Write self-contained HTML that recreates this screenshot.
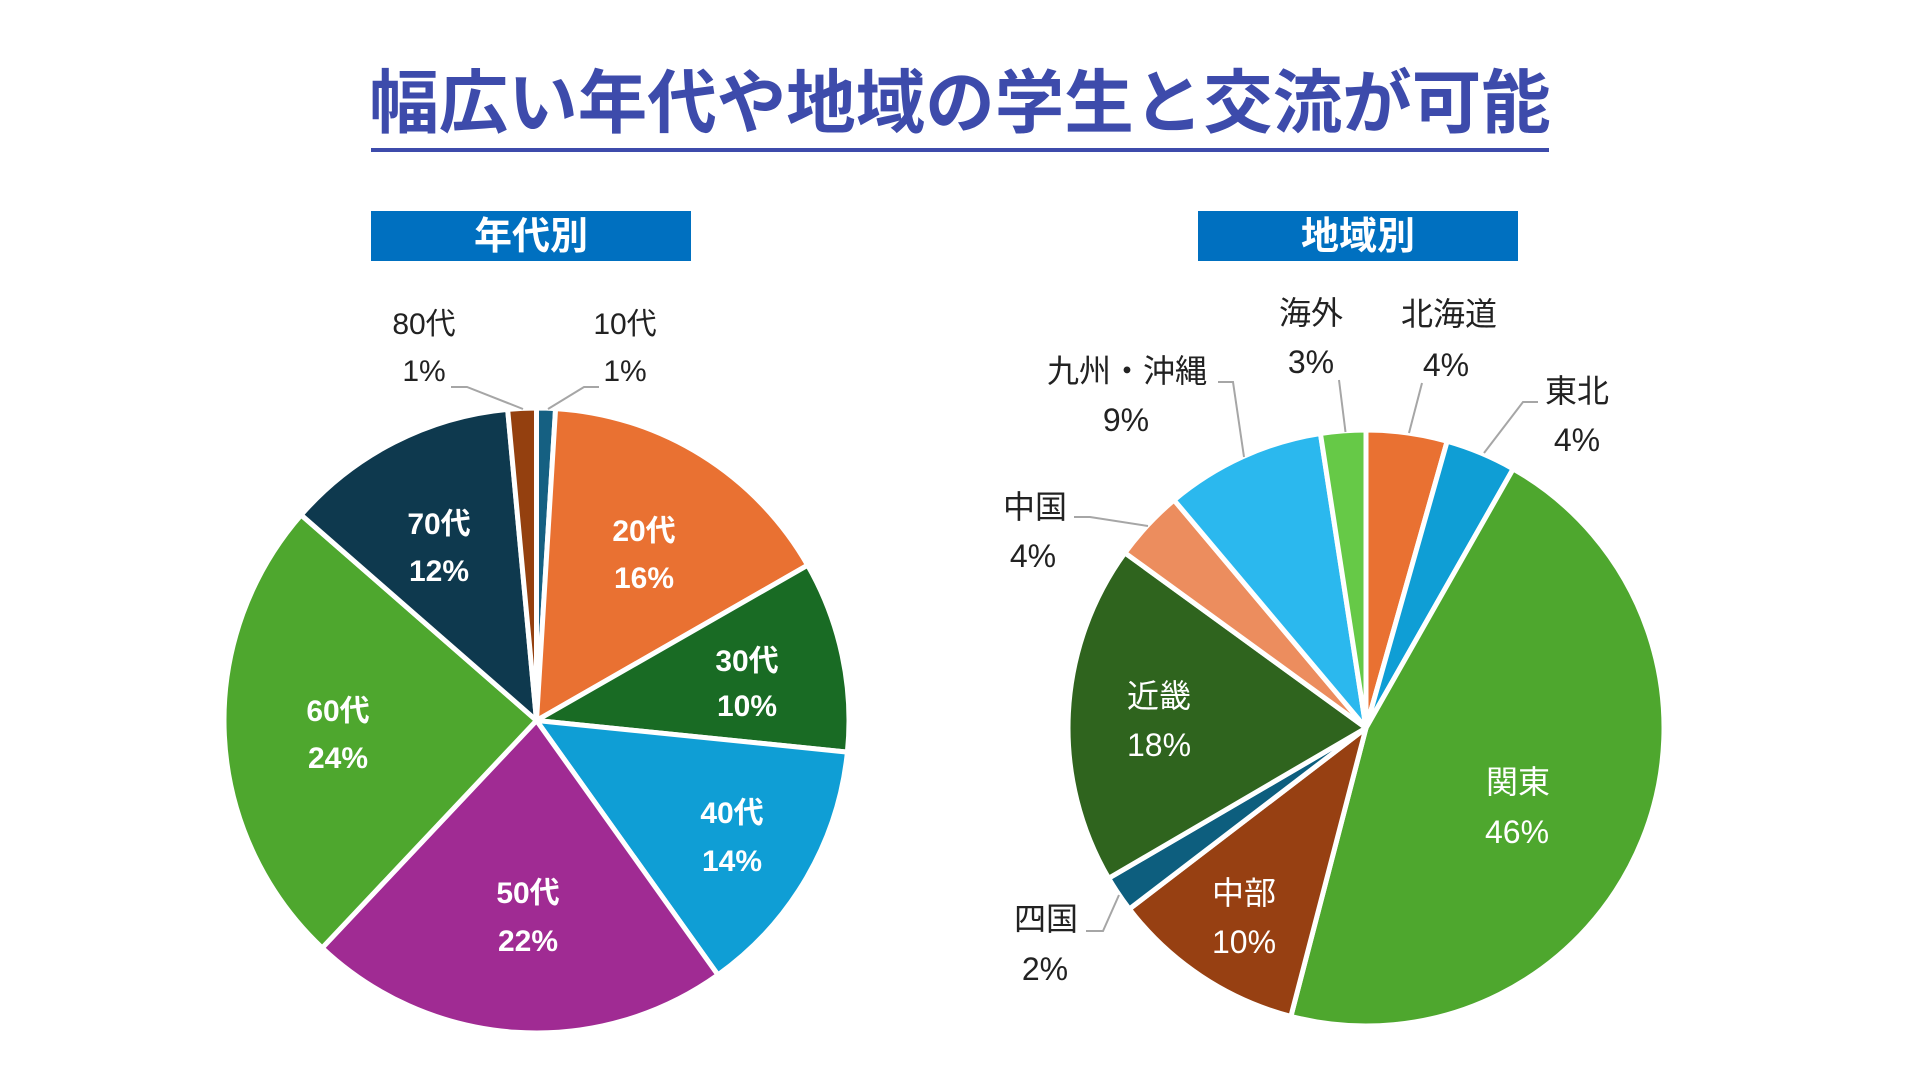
<!DOCTYPE html>
<html lang="ja">
<head>
<meta charset="utf-8">
<style>
  html, body { margin: 0; padding: 0; background: #ffffff; }
  body { width: 1920px; height: 1080px; overflow: hidden; }
  svg { display: block; }
  text { font-family: "Liberation Sans", "Noto Sans CJK JP", sans-serif; }
  .title { font-family: "Noto Sans CJK JP", "Liberation Sans", sans-serif; font-weight: 700; }
  .box { font-family: "Noto Sans CJK JP", "Liberation Sans", sans-serif; font-weight: 700; }
  .lin { font-weight: 700; fill: #ffffff; font-size: 30px; }
  .lout { font-weight: 400; fill: #222222; font-size: 30px; }
  .rin { font-weight: 400; fill: #ffffff; font-size: 32px; }
  .rout { font-weight: 400; fill: #222222; font-size: 32px; }
</style>
</head>
<body>
<svg width="1920" height="1080" viewBox="0 0 1920 1080" xmlns="http://www.w3.org/2000/svg">
  <rect x="0" y="0" width="1920" height="1080" fill="#ffffff"/>

  <!-- Title -->
  <text class="title" x="960" y="127" text-anchor="middle" font-size="69.5" fill="#3D4BAB">幅広い年代や地域の学生と交流が可能</text>
  <rect x="371" y="148" width="1178" height="4" fill="#3D4BAB"/>

  <!-- Section boxes -->
  <rect x="371" y="211" width="320" height="50" fill="#0070C0"/>
  <text class="box" x="531" y="249" text-anchor="middle" font-size="38" fill="#ffffff">年代別</text>
  <rect x="1198" y="211" width="320" height="50" fill="#0070C0"/>
  <text class="box" x="1358" y="249" text-anchor="middle" font-size="38" fill="#ffffff">地域別</text>

  <!-- Left pie -->
  <g stroke="#ffffff" stroke-width="5" stroke-linejoin="round">
    <path d="M536.5 720.5 L536.5 408 A312.5 312.5 0 0 1 555.58 408.58 Z" fill="#156082"/>
    <path d="M536.5 720.5 L555.58 408.58 A312.5 312.5 0 0 1 807.68 565.20 Z" fill="#E97132"/>
    <path d="M536.5 720.5 L807.68 565.20 A312.5 312.5 0 0 1 847.40 752.08 Z" fill="#196B24"/>
    <path d="M536.5 720.5 L847.40 752.08 A312.5 312.5 0 0 1 717.97 974.91 Z" fill="#0F9ED5"/>
    <path d="M536.5 720.5 L717.97 974.91 A312.5 312.5 0 0 1 322.17 947.92 Z" fill="#A02B93"/>
    <path d="M536.5 720.5 L322.17 947.92 A312.5 312.5 0 0 1 301.13 514.93 Z" fill="#4EA72E"/>
    <path d="M536.5 720.5 L301.13 514.93 A312.5 312.5 0 0 1 507.63 409.34 Z" fill="#0E394E"/>
    <path d="M536.5 720.5 L507.63 409.34 A312.5 312.5 0 0 1 536.5 408 Z" fill="#94400F"/>
  </g>

  <!-- Left leader lines -->
  <g fill="none" stroke="#A6A6A6" stroke-width="2">
    <path d="M451 387 L467 387 L523 409"/>
    <path d="M599 387 L584 387 L548 409"/>
  </g>

  <!-- Left labels -->
  <g text-anchor="middle">
    <text class="lin" x="644" y="541">20代</text>
    <text class="lin" x="644" y="588">16%</text>
    <text class="lin" x="747" y="671">30代</text>
    <text class="lin" x="747" y="716">10%</text>
    <text class="lin" x="732" y="823">40代</text>
    <text class="lin" x="732" y="871">14%</text>
    <text class="lin" x="528" y="903">50代</text>
    <text class="lin" x="528" y="951">22%</text>
    <text class="lin" x="338" y="721">60代</text>
    <text class="lin" x="338" y="768">24%</text>
    <text class="lin" x="439" y="534">70代</text>
    <text class="lin" x="439" y="581">12%</text>
    <text class="lout" x="424" y="334">80代</text>
    <text class="lout" x="424" y="381">1%</text>
    <text class="lout" x="625" y="334">10代</text>
    <text class="lout" x="625" y="381">1%</text>
  </g>

  <!-- Right pie -->
  <g stroke="#ffffff" stroke-width="5" stroke-linejoin="round">
    <path d="M1366 728 L1366 430 A298 298 0 0 1 1447.14 441.26 Z" fill="#E97132"/>
    <path d="M1366 728 L1447.14 441.26 A298 298 0 0 1 1513.19 468.89 Z" fill="#0F9ED5"/>
    <path d="M1366 728 L1513.19 468.89 A298 298 0 0 1 1290.88 1016.38 Z" fill="#4EA72E"/>
    <path d="M1366 728 L1290.88 1016.38 A298 298 0 0 1 1129.35 909.0 Z" fill="#974012"/>
    <path d="M1366 728 L1129.35 909.0 A298 298 0 0 1 1108.67 878.27 Z" fill="#0D5E7E"/>
    <path d="M1366 728 L1108.67 878.27 A298 298 0 0 1 1124.91 552.84 Z" fill="#2F641E"/>
    <path d="M1366 728 L1124.91 552.84 A298 298 0 0 1 1174.05 500.05 Z" fill="#EC8D5E"/>
    <path d="M1366 728 L1174.05 500.05 A298 298 0 0 1 1320.41 433.51 Z" fill="#2BB8EE"/>
    <path d="M1366 728 L1320.41 433.51 A298 298 0 0 1 1366 430 Z" fill="#66C947"/>
  </g>

  <!-- Right leader lines -->
  <g fill="none" stroke="#A6A6A6" stroke-width="2">
    <path d="M1218 382 L1233 382 L1244 457"/>
    <path d="M1339 380 L1345.5 432"/>
    <path d="M1422 383 L1409 433"/>
    <path d="M1538 402 L1523 402 L1484 453"/>
    <path d="M1074 517 L1090 517 L1148 526"/>
    <path d="M1086 931 L1103 931 L1119 895"/>
  </g>

  <!-- Right labels -->
  <g text-anchor="middle">
    <text class="rout" x="1311" y="324">海外</text>
    <text class="rout" x="1311" y="373">3%</text>
    <text class="rout" x="1449" y="325">北海道</text>
    <text class="rout" x="1446" y="376">4%</text>
    <text class="rout" x="1577" y="402">東北</text>
    <text class="rout" x="1577" y="451">4%</text>
    <text class="rout" x="1127" y="382">九州・沖縄</text>
    <text class="rout" x="1126" y="431">9%</text>
    <text class="rout" x="1035" y="518">中国</text>
    <text class="rout" x="1033" y="567">4%</text>
    <text class="rout" x="1046" y="930">四国</text>
    <text class="rout" x="1045" y="980">2%</text>
    <text class="rin" x="1159" y="707">近畿</text>
    <text class="rin" x="1159" y="756">18%</text>
    <text class="rin" x="1244" y="904">中部</text>
    <text class="rin" x="1244" y="953">10%</text>
    <text class="rin" x="1518" y="793">関東</text>
    <text class="rin" x="1517" y="843">46%</text>
  </g>
</svg>
</body>
</html>
